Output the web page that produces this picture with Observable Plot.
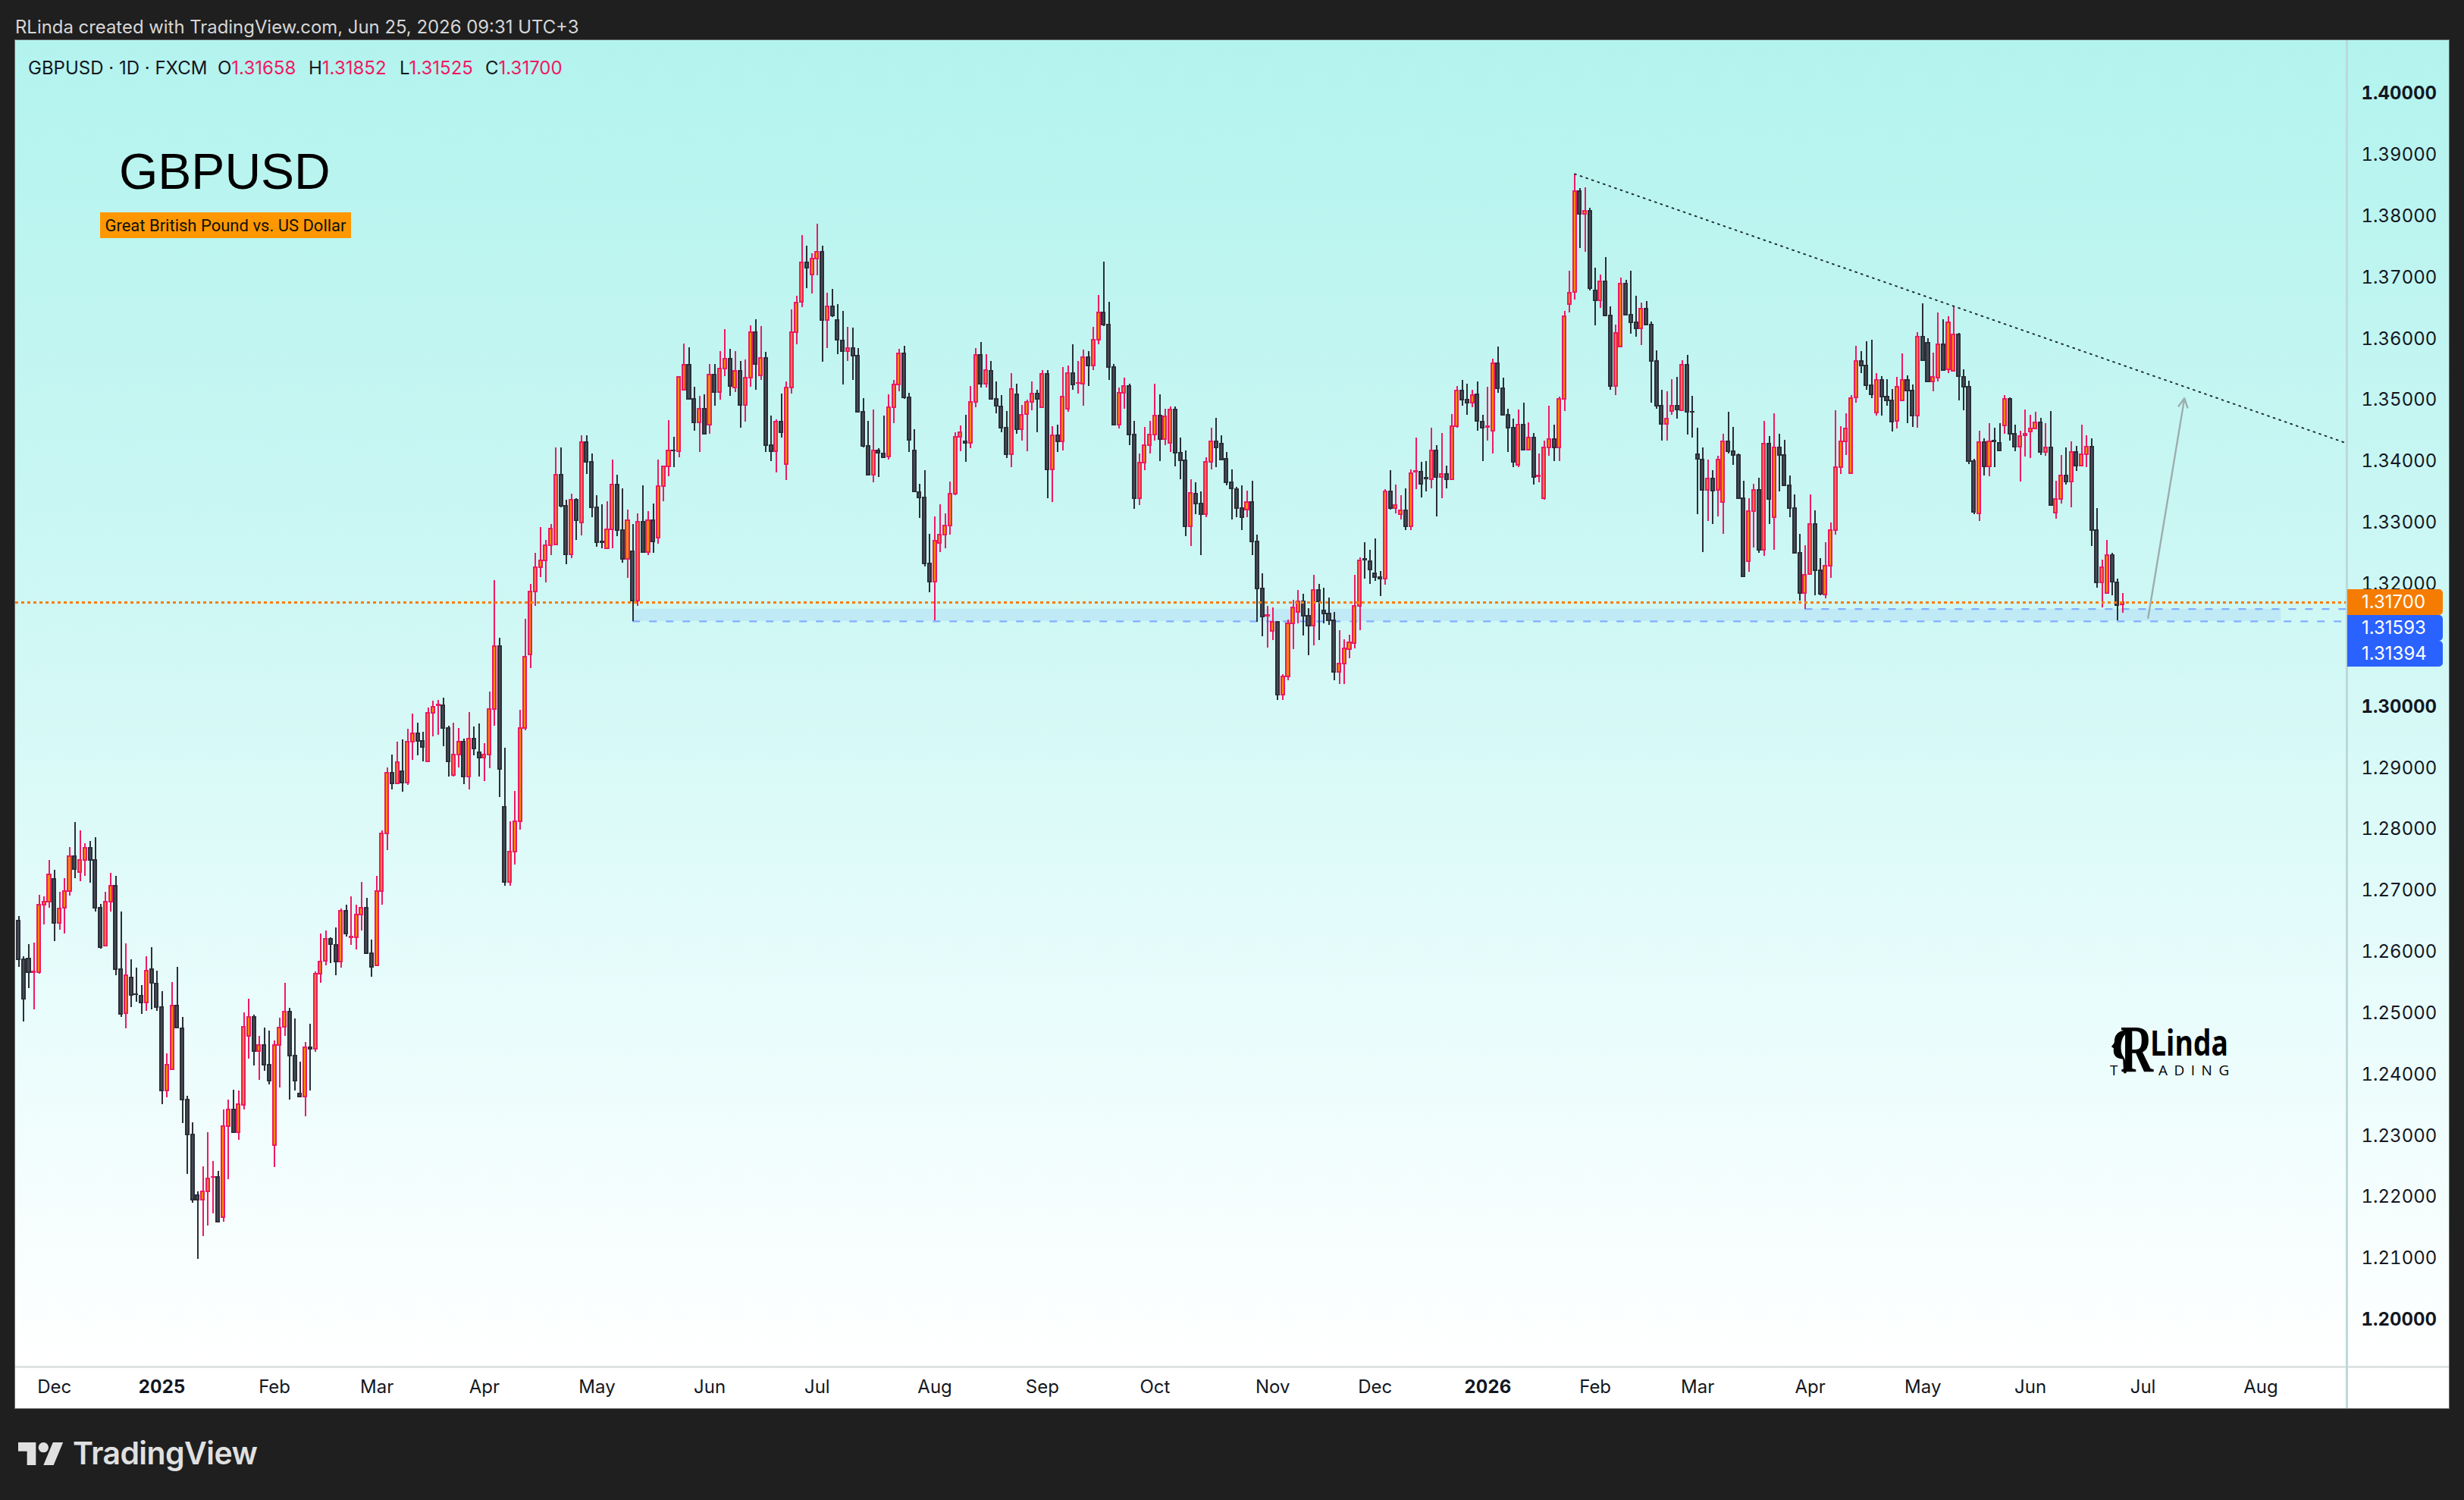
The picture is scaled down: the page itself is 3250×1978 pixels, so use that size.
<!DOCTYPE html>
<html>
<head>
<meta charset="utf-8">
<title>GBPUSD</title>
<script src="https://cdn.jsdelivr.net/npm/d3@7"></script>
<script src="https://cdn.jsdelivr.net/npm/@observablehq/plot@0.6"></script>
<style>
  html,body{margin:0;padding:0;background:#1f1f1f;width:3250px;height:1978px;overflow:hidden;font-family:Inter,Roboto,sans-serif}
  .abs{position:absolute;white-space:nowrap}
  #panel{position:absolute;left:20px;top:53px;width:3210px;height:1804px;background:#fff;outline:1px solid #6a6a6a}
  #grad{position:absolute;left:0;top:0;width:3210px;height:1749px;background:linear-gradient(to bottom,#b3f3ee 0%,#ccf7f4 40%,#e6fcfb 70%,#ffffff 100%)}
  #tline{position:absolute;left:0;top:1748px;width:3210px;height:3px;background:#e0e3e3}
  #vline{position:absolute;left:3074px;top:0;width:3px;height:1804px;background:#bcd9d9}
  #chart{position:absolute;left:0;top:0}
  .badge{position:absolute;left:3096px;width:126px;height:34px;line-height:34px;color:#fff;font-size:24px;text-align:left;text-indent:19px;border-radius:0 5px 5px 0}
  .pk{color:#ee1a62}
</style>
</head>
<body>
<div class="abs" style="left:20px;top:21px;font-size:23.9px;color:#d6d6d6">RLinda created with TradingView.com, Jun 25, 2026 09:31 UTC+3</div>
<div id="panel"><div id="grad"></div><div id="tline"></div><div id="vline"></div><div id="chart"></div></div>

<div class="abs" style="left:37px;top:75px;font-size:24px;color:#131722">GBPUSD · 1D · FXCM</div>
<div class="abs" style="left:287px;top:75px;font-size:24px;color:#131722">O<span class="pk">1.31658</span></div>
<div class="abs" style="left:407px;top:75px;font-size:24px;color:#131722">H<span class="pk">1.31852</span></div>
<div class="abs" style="left:527px;top:75px;font-size:24px;color:#131722">L<span class="pk">1.31525</span></div>
<div class="abs" style="left:640px;top:75px;font-size:24px;color:#131722">C<span class="pk">1.31700</span></div>

<div class="abs" style="left:157px;top:188px;font-family:'Liberation Sans';font-size:66px;color:#000">GBPUSD</div>
<div class="abs" style="left:132px;top:280px;width:331px;height:34px;line-height:36px;background:#ff9800;color:#111;text-align:center;font-family:Roboto;font-size:22px">Great British Pound vs. US Dollar</div>

<div class="badge" style="top:777px;background:#f57c00">1.31700</div>
<div class="badge" style="top:811px;background:#2962ff">1.31593</div>
<div class="badge" style="top:845px;background:#2962ff">1.31394</div>

<svg class="abs" style="left:2783px;top:1356px" width="33" height="62" viewBox="130 110 100 185"><path fill="#000" d="M200 115C170 115 148 130 148 160C148 170 140 175 136 182L145 188C143 205 146 222 165 228L182 232L185 288L195 288C200 260 195 235 180 215C172 200 172 170 180 150C186 135 200 125 215 120Z"/></svg>
<div class="abs" style="left:2797px;top:1346px;font-family:'Liberation Serif';font-weight:bold;font-size:88px;line-height:76px;color:#000;transform:scaleX(.68);transform-origin:left top">R</div>
<div class="abs" style="left:2836px;top:1351px;font-family:'Open Sans';font-weight:700;font-size:46px;line-height:46px;height:46px;overflow:visible;color:#000;transform:scaleX(.81);transform-origin:left top">Linda</div>
<div class="abs" style="left:2783px;top:1402px;font-family:'Open Sans';font-size:19px;line-height:19px;color:#000">T</div>
<div class="abs" style="left:2847px;top:1402px;font-family:'Open Sans';font-size:19px;line-height:19px;letter-spacing:8.5px;color:#000">ADING</div>

<svg class="abs" style="left:24px;top:1902px" width="60" height="30" viewBox="0 4 36 18"><path fill="#e0e0e0" d="M14 22H7V11H0V4h14v18zM28 22h-8l7.5-18h8L28 22z"/><circle cx="20" cy="8" r="4" fill="#e0e0e0"/></svg>
<div class="abs" style="left:96px;top:1891px;font-size:41px;font-weight:600;letter-spacing:-0.6px;color:#e0e0e0">TradingView</div>

<script>
const opens = [
1.2650,1.2588,1.2589,1.2567,1.2567,1.2677,1.2682,1.2719,1.2647,1.2671,
1.2699,1.2756,1.2730,1.2749,1.2769,1.2749,1.2672,1.2610,1.2681,1.2707,
1.2571,1.2500,1.2558,1.2531,1.2528,1.2517,1.2572,1.2548,1.2510,1.2374,
1.2408,1.2512,1.2475,1.2359,1.2302,1.2203,1.2196,1.2209,1.2232,1.2233,
1.2167,1.2316,1.2343,1.2306,1.2350,1.2462,1.2494,1.2438,1.2448,1.2415,
1.2285,1.2448,1.2477,1.2502,1.2431,1.2368,1.2364,1.2444,1.2441,1.2564,
1.2585,1.2621,1.2611,1.2584,1.2667,1.2623,1.2623,1.2661,1.2672,1.2598,
1.2577,1.2699,1.2793,1.2892,1.2875,1.2894,1.2876,1.2942,1.2956,1.2944,
1.2910,1.2989,1.3002,1.3002,1.2965,1.2888,1.2922,1.2942,1.2886,1.2947,
1.2925,1.2916,1.2922,1.2996,1.3098,1.2836,1.2714,1.2763,1.2813,1.2965,
1.3085,1.3187,1.3227,1.3238,1.3263,1.3264,1.3378,1.3327,1.3248,1.3337,
1.3300,1.3431,1.3399,1.3325,1.3269,1.3258,1.3289,1.3362,1.3288,1.3241,
1.3253,1.3173,1.3301,1.3252,1.3304,1.3275,1.3359,1.3392,1.3418,1.3416,
1.3516,1.3557,1.3501,1.3463,1.3485,1.3460,1.3541,1.3513,1.3551,1.3567,
1.3520,1.3547,1.3492,1.3536,1.3610,1.3540,1.3568,1.3426,1.3416,1.3464,
1.3395,1.3520,1.3611,1.3660,1.3724,1.3704,1.3730,1.3741,1.3630,1.3652,
1.3630,1.3597,1.3579,1.3584,1.3572,1.3481,1.3425,1.3378,1.3417,1.3413,
1.3408,1.3488,1.3525,1.3576,1.3504,1.3418,1.3350,1.3341,1.3233,1.3203,
1.3267,1.3280,1.3295,1.3347,1.3440,1.3432,1.3430,1.3497,1.3573,1.3526,
1.3547,1.3501,1.3489,1.3454,1.3411,1.3509,1.3452,1.3477,1.3497,1.3510,
1.3488,1.3542,1.3386,1.3442,1.3432,1.3486,1.3544,1.3527,1.3526,1.3570,
1.3556,1.3598,1.3643,1.3623,1.3553,1.3460,1.3512,1.3522,1.3444,1.3340,
1.3398,1.3426,1.3443,1.3474,1.3436,1.3430,1.3484,1.3414,1.3401,1.3294,
1.3347,1.3331,1.3314,1.3399,1.3432,1.3428,1.3404,1.3366,1.3354,1.3323,
1.3321,1.3333,1.3269,1.3192,1.3148,1.3123,1.3138,1.3019,1.3049,1.3136,
1.3154,1.3171,1.3148,1.3132,1.3190,1.3156,1.3152,1.3140,1.3056,1.3070,
1.3094,1.3103,1.3164,1.3240,1.3237,1.3217,1.3211,1.3208,1.3351,1.3323,
1.3313,1.3320,1.3294,1.3383,1.3383,1.3373,1.3371,1.3417,1.3374,1.3379,
1.3370,1.3457,1.3515,1.3500,1.3495,1.3509,1.3465,1.3456,1.3450,1.3560,
1.3519,1.3476,1.3455,1.3394,1.3459,1.3419,1.3438,1.3376,1.3340,1.3422,
1.3436,1.3423,1.3501,1.3656,1.3676,1.3841,1.3803,1.3808,1.3678,1.3662,
1.3693,1.3638,1.3523,1.3587,1.3689,1.3639,1.3626,1.3617,1.3649,1.3623,
1.3563,1.3491,1.3461,1.3482,1.3490,1.3483,1.3557,1.3481,1.3411,1.3403,
1.3353,1.3372,1.3353,1.3333,1.3432,1.3416,1.3410,1.3340,1.3237,1.3318,
1.3353,1.3255,1.3429,1.3309,1.3422,1.3410,1.3361,1.3324,1.3250,1.3185,
1.3216,1.3297,1.3222,1.3183,1.3230,1.3288,1.3390,1.3432,1.3380,1.3504,
1.3564,1.3556,1.3524,1.3479,1.3532,1.3505,1.3499,1.3466,1.3499,1.3532,
1.3515,1.3474,1.3603,1.3593,1.3530,1.3536,1.3590,1.3550,1.3547,1.3607,
1.3538,1.3521,1.3400,1.3315,1.3431,1.3392,1.3433,1.3430,1.3458,1.3502,
1.3445,1.3424,1.3442,1.3448,1.3453,1.3463,1.3415,1.3422,1.3316,1.3338,
1.3377,1.3367,1.3415,1.3393,1.3411,1.3424,1.3287,1.3202,1.3185,1.3247,
1.3202,1.31658];
const closes = [
1.2588,1.2523,1.2567,1.2568,1.2677,1.2682,1.2726,1.2647,1.2670,1.2699,
1.2756,1.2735,1.2749,1.2769,1.2749,1.2672,1.2607,1.2681,1.2707,1.2571,
1.2499,1.2562,1.2529,1.2530,1.2517,1.2569,1.2549,1.2510,1.2374,1.2415,
1.2512,1.2476,1.2359,1.2302,1.2195,1.2195,1.2209,1.2230,1.2233,1.2160,
1.2316,1.2343,1.2306,1.2351,1.2478,1.2494,1.2438,1.2448,1.2415,1.2389,
1.2448,1.2476,1.2502,1.2431,1.2390,1.2364,1.2444,1.2441,1.2564,1.2584,
1.2621,1.2612,1.2584,1.2667,1.2630,1.2624,1.2661,1.2672,1.2598,1.2575,
1.2699,1.2793,1.2892,1.2875,1.2909,1.2876,1.2942,1.2956,1.2944,1.2934,
1.2989,1.2999,1.3003,1.2965,1.2910,1.2922,1.2942,1.2886,1.2947,1.2931,
1.2916,1.2922,1.2996,1.3098,1.2898,1.2714,1.2763,1.2813,1.2965,1.3081,
1.3187,1.3227,1.3238,1.3263,1.3290,1.3378,1.3327,1.3248,1.3337,1.3304,
1.3431,1.3399,1.3325,1.3268,1.3268,1.3289,1.3362,1.3288,1.3241,1.3304,
1.3173,1.3301,1.3252,1.3304,1.3269,1.3359,1.3392,1.3417,1.3417,1.3537,
1.3557,1.3501,1.3463,1.3485,1.3445,1.3541,1.3513,1.3551,1.3567,1.3523,
1.3547,1.3492,1.3536,1.3610,1.3558,1.3568,1.3426,1.3416,1.3464,1.3447,
1.3520,1.3611,1.3659,1.3724,1.3715,1.3730,1.3741,1.3630,1.3652,1.3638,
1.3598,1.3579,1.3584,1.3572,1.3481,1.3425,1.3378,1.3417,1.3414,1.3406,
1.3488,1.3525,1.3576,1.3504,1.3435,1.3351,1.3341,1.3233,1.3203,1.3270,
1.3280,1.3295,1.3347,1.3440,1.3447,1.3430,1.3496,1.3573,1.3526,1.3549,
1.3502,1.3490,1.3455,1.3411,1.3518,1.3452,1.3476,1.3497,1.3510,1.3502,
1.3542,1.3386,1.3442,1.3432,1.3505,1.3543,1.3525,1.3528,1.3570,1.3556,
1.3598,1.3643,1.3623,1.3553,1.3460,1.3511,1.3522,1.3444,1.3340,1.3398,
1.3426,1.3443,1.3474,1.3436,1.3473,1.3484,1.3414,1.3401,1.3294,1.3348,
1.3331,1.3314,1.3399,1.3432,1.3422,1.3403,1.3366,1.3355,1.3323,1.3309,
1.3333,1.3269,1.3192,1.3146,1.3149,1.3138,1.3019,1.3049,1.3135,1.3161,
1.3171,1.3148,1.3132,1.3190,1.3171,1.3151,1.3140,1.3056,1.3070,1.3095,
1.3104,1.3164,1.3238,1.3239,1.3223,1.3211,1.3209,1.3351,1.3323,1.3329,
1.3320,1.3294,1.3380,1.3384,1.3363,1.3372,1.3417,1.3374,1.3379,1.3370,
1.3457,1.3515,1.3500,1.3495,1.3508,1.3466,1.3454,1.3457,1.3560,1.3519,
1.3476,1.3455,1.3399,1.3459,1.3419,1.3438,1.3374,1.3377,1.3422,1.3436,
1.3423,1.3501,1.3636,1.3675,1.3841,1.3803,1.3808,1.3682,1.3662,1.3693,
1.3638,1.3523,1.3609,1.3689,1.3639,1.3626,1.3617,1.3649,1.3623,1.3563,
1.3491,1.3461,1.3469,1.3490,1.3484,1.3557,1.3481,1.3480,1.3404,1.3353,
1.3372,1.3352,1.3402,1.3432,1.3416,1.3410,1.3340,1.3212,1.3318,1.3353,
1.3255,1.3429,1.3338,1.3422,1.3410,1.3361,1.3324,1.3250,1.3185,1.3215,
1.3297,1.3222,1.3184,1.3230,1.3288,1.3390,1.3432,1.3453,1.3503,1.3564,
1.3556,1.3524,1.3509,1.3532,1.3505,1.3499,1.3465,1.3521,1.3532,1.3515,
1.3474,1.3603,1.3565,1.3530,1.3537,1.3590,1.3549,1.3626,1.3607,1.3539,
1.3521,1.3400,1.3317,1.3431,1.3392,1.3432,1.3432,1.3418,1.3502,1.3445,
1.3424,1.3441,1.3445,1.3453,1.3463,1.3415,1.3422,1.3329,1.3338,1.3377,
1.3367,1.3415,1.3393,1.3411,1.3424,1.3287,1.3202,1.3227,1.3247,1.3203,
1.3165,1.31700];
const highs = [
1.2658,1.2593,1.2612,1.2615,1.2693,1.2690,1.2749,1.2734,1.2698,1.2720,
1.2770,1.2811,1.2798,1.2777,1.2781,1.2787,1.2678,1.2698,1.2728,1.2724,
1.2666,1.2613,1.2587,1.2574,1.2546,1.2592,1.2607,1.2569,1.2535,1.2434,
1.2550,1.2575,1.2493,1.2365,1.2321,1.2209,1.2250,1.2305,1.2259,1.2243,
1.2343,1.2359,1.2375,1.2374,1.2501,1.2523,1.2497,1.2462,1.2476,1.2471,
1.2455,1.2492,1.2549,1.2508,1.2491,1.2421,1.2453,1.2482,1.2568,1.2629,
1.2634,1.2623,1.2639,1.2670,1.2677,1.2690,1.2676,1.2714,1.2688,1.2620,
1.2723,1.2798,1.2900,1.2922,1.2943,1.2946,1.2964,1.2988,1.2973,1.2958,
1.2998,1.3009,1.3010,1.3014,1.2969,1.2973,1.2965,1.2948,1.2991,1.2967,
1.2972,1.2940,1.3024,1.3206,1.3112,1.2933,1.2813,1.2862,1.2995,1.3143,
1.3200,1.3251,1.3292,1.3272,1.3297,1.3422,1.3423,1.3337,1.3347,1.3340,
1.3442,1.3442,1.3413,1.3345,1.3330,1.3335,1.3402,1.3378,1.3355,1.3321,
1.3298,1.3315,1.3360,1.3318,1.3331,1.3403,1.3393,1.3467,1.3440,1.3537,
1.3592,1.3586,1.3521,1.3506,1.3509,1.3558,1.3558,1.3579,1.3615,1.3583,
1.3580,1.3563,1.3566,1.3621,1.3631,1.3620,1.3578,1.3474,1.3468,1.3510,
1.3530,1.3647,1.3670,1.3769,1.3751,1.3739,1.3787,1.3751,1.3675,1.3681,
1.3656,1.3645,1.3619,1.3618,1.3584,1.3503,1.3466,1.3484,1.3421,1.3474,
1.3509,1.3533,1.3583,1.3588,1.3511,1.3452,1.3363,1.3385,1.3282,1.3310,
1.3330,1.3315,1.3367,1.3447,1.3458,1.3476,1.3523,1.3585,1.3594,1.3575,
1.3563,1.3530,1.3508,1.3482,1.3544,1.3526,1.3492,1.3500,1.3530,1.3516,
1.3548,1.3548,1.3457,1.3459,1.3553,1.3556,1.3590,1.3564,1.3582,1.3580,
1.3619,1.3671,1.3726,1.3660,1.3558,1.3520,1.3536,1.3526,1.3466,1.3413,
1.3456,1.3466,1.3526,1.3509,1.3485,1.3489,1.3489,1.3438,1.3418,1.3370,
1.3366,1.3351,1.3406,1.3454,1.3471,1.3442,1.3415,1.3387,1.3358,1.3361,
1.3352,1.3368,1.3280,1.3217,1.3164,1.3162,1.3138,1.3053,1.3142,1.3174,
1.3190,1.3184,1.3160,1.3215,1.3200,1.3193,1.3177,1.3154,1.3124,1.3109,
1.3117,1.3214,1.3243,1.3268,1.3255,1.3274,1.3221,1.3354,1.3385,1.3362,
1.3345,1.3356,1.3387,1.3438,1.3399,1.3400,1.3455,1.3426,1.3446,1.3393,
1.3477,1.3523,1.3533,1.3526,1.3516,1.3530,1.3476,1.3521,1.3567,1.3587,
1.3536,1.3485,1.3469,1.3484,1.3495,1.3463,1.3446,1.3413,1.3434,1.3490,
1.3459,1.3505,1.3645,1.3711,1.3869,1.3845,1.3847,1.3813,1.3715,1.3705,
1.3733,1.3653,1.3623,1.3700,1.3696,1.3711,1.3670,1.3659,1.3661,1.3628,
1.3581,1.3516,1.3514,1.3534,1.3537,1.3565,1.3573,1.3507,1.3454,1.3423,
1.3403,1.3385,1.3409,1.3445,1.3481,1.3456,1.3412,1.3368,1.3339,1.3363,
1.3373,1.3466,1.3441,1.3478,1.3445,1.3435,1.3377,1.3346,1.3282,1.3263,
1.3346,1.3320,1.3242,1.3268,1.3300,1.3483,1.3457,1.3478,1.3508,1.3588,
1.3579,1.3595,1.3598,1.3544,1.3539,1.3534,1.3518,1.3537,1.3576,1.3540,
1.3525,1.3610,1.3657,1.3601,1.3577,1.3642,1.3632,1.3636,1.3654,1.3609,
1.3550,1.3531,1.3404,1.3449,1.3437,1.3462,1.3454,1.3462,1.3508,1.3504,
1.3459,1.3450,1.3484,1.3476,1.3481,1.3471,1.3462,1.3482,1.3368,1.3410,
1.3423,1.3432,1.3425,1.3460,1.3442,1.3437,1.3323,1.3239,1.3271,1.3250,
1.3208,1.31852];
const lows = [
1.2575,1.2486,1.2540,1.2506,1.2564,1.2644,1.2672,1.2617,1.2636,1.2630,
1.2692,1.2720,1.2715,1.2723,1.2712,1.2665,1.2605,1.2608,1.2665,1.2561,
1.2494,1.2475,1.2509,1.2518,1.2499,1.2504,1.2506,1.2504,1.2351,1.2363,
1.2408,1.2476,1.2320,1.2237,1.2191,1.2099,1.2136,1.2153,1.2173,1.2160,
1.2160,1.2229,1.2306,1.2293,1.2343,1.2425,1.2414,1.2391,1.2406,1.2384,
1.2248,1.2378,1.2462,1.2359,1.2374,1.2362,1.2331,1.2374,1.2436,1.2549,
1.2577,1.2581,1.2562,1.2574,1.2624,1.2611,1.2604,1.2634,1.2598,1.2559,
1.2577,1.2677,1.2766,1.2865,1.2873,1.2861,1.2872,1.2913,1.2920,1.2910,
1.2910,1.2951,1.2954,1.2935,1.2886,1.2886,1.2901,1.2873,1.2865,1.2920,
1.2885,1.2878,1.2899,1.2968,1.2852,1.2708,1.2708,1.2742,1.2799,1.2961,
1.3062,1.3164,1.3211,1.3202,1.3247,1.3264,1.3325,1.3232,1.3242,1.3272,
1.3279,1.3379,1.3308,1.3260,1.3258,1.3258,1.3258,1.3278,1.3235,1.3210,
1.3139,1.3164,1.3252,1.3247,1.3250,1.3265,1.3334,1.3376,1.3390,1.3406,
1.3516,1.3500,1.3449,1.3415,1.3445,1.3445,1.3491,1.3500,1.3539,1.3506,
1.3513,1.3455,1.3464,1.3521,1.3516,1.3533,1.3415,1.3400,1.3382,1.3439,
1.3369,1.3510,1.3590,1.3651,1.3682,1.3673,1.3703,1.3562,1.3585,1.3635,
1.3575,1.3525,1.3564,1.3533,1.3480,1.3423,1.3378,1.3365,1.3374,1.3405,
1.3402,1.3462,1.3514,1.3502,1.3415,1.3351,1.3307,1.3228,1.3186,1.3141,
1.3252,1.3258,1.3280,1.3345,1.3416,1.3399,1.3421,1.3488,1.3520,1.3520,
1.3502,1.3478,1.3447,1.3405,1.3390,1.3445,1.3434,1.3416,1.3483,1.3447,
1.3488,1.3340,1.3333,1.3415,1.3418,1.3481,1.3517,1.3510,1.3491,1.3523,
1.3548,1.3591,1.3620,1.3533,1.3460,1.3453,1.3486,1.3426,1.3322,1.3329,
1.3385,1.3413,1.3434,1.3400,1.3426,1.3415,1.3392,1.3370,1.3278,1.3261,
1.3314,1.3247,1.3309,1.3387,1.3390,1.3401,1.3360,1.3305,1.3308,1.3287,
1.3309,1.3247,1.3138,1.3115,1.3096,1.3108,1.3010,1.3010,1.3043,1.3094,
1.3136,1.3116,1.3084,1.3099,1.3108,1.3135,1.3133,1.3043,1.3037,1.3037,
1.3079,1.3095,1.3124,1.3209,1.3200,1.3205,1.3180,1.3198,1.3321,1.3315,
1.3305,1.3287,1.3288,1.3354,1.3341,1.3351,1.3355,1.3310,1.3340,1.3356,
1.3370,1.3454,1.3491,1.3476,1.3488,1.3449,1.3400,1.3434,1.3413,1.3511,
1.3475,1.3415,1.3390,1.3390,1.3419,1.3417,1.3362,1.3366,1.3337,1.3409,
1.3400,1.3400,1.3482,1.3642,1.3663,1.3748,1.3742,1.3679,1.3622,1.3650,
1.3638,1.3517,1.3508,1.3587,1.3638,1.3608,1.3603,1.3589,1.3623,1.3495,
1.3485,1.3433,1.3434,1.3475,1.3469,1.3482,1.3444,1.3439,1.3314,1.3252,
1.3303,1.3297,1.3310,1.3282,1.3412,1.3394,1.3338,1.3212,1.3220,1.3259,
1.3251,1.3245,1.3298,1.3256,1.3351,1.3361,1.3309,1.3250,1.3173,1.3159,
1.3216,1.3181,1.3181,1.3176,1.3210,1.3280,1.3379,1.3410,1.3380,1.3495,
1.3543,1.3516,1.3503,1.3474,1.3474,1.3490,1.3448,1.3453,1.3499,1.3462,
1.3456,1.3454,1.3563,1.3529,1.3514,1.3530,1.3547,1.3543,1.3547,1.3499,
1.3483,1.3395,1.3314,1.3302,1.3377,1.3375,1.3390,1.3418,1.3445,1.3434,
1.3416,1.3367,1.3408,1.3405,1.3453,1.3410,1.3409,1.3329,1.3306,1.3331,
1.3362,1.3325,1.3384,1.3393,1.3390,1.3261,1.3193,1.3162,1.3184,1.3181,
1.3140,1.31525];

const priceTicks = [1.21,1.22,1.23,1.24,1.25,1.26,1.27,1.28,1.29,1.32,1.33,1.34,1.35,1.36,1.37,1.38,1.39];
const boldPriceTicks = [1.20,1.30,1.40];
const monthBars = [7,50,70,91,113,135,156,179,200,222,245,265,308,328,350,372,393,415,438];
const monthNames = ["Dec","Feb","Mar","Apr","May","Jun","Jul","Aug","Sep","Oct","Nov","Dec","Feb","Mar","Apr","May","Jun","Jul","Aug"];
const yearBars = [28,287];
const yearNames = ["2025","2026"];

const lastPrice = 1.31700;
const zoneTop = 1.31593, zoneBottom = 1.31394;
const trendBars = [304, 454.7], trendPrices = [1.3869, 1.3430];
const arrowBars = [416, 423.1], arrowPrices = [1.3145, 1.3503];
const zoneBars = [120, 442];
const upperDashStart = 349, dashEnd = 454.7;

const candles = opens.map((o,i)=>({i,o,h:highs[i],l:lows[i],c:closes[i]}));
const up = candles.filter(d=>d.c>=d.o), down = candles.filter(d=>d.c<d.o);
const PINK="#ee1a62", ORANGE="#f78a00", DARK="#2b2f36", GREY="#474a56", BLUE="#82aeff";
const FONT="Inter, Roboto, sans-serif";
const hw=0.3;

const wick=(data,stroke)=>Plot.ruleX(data,{x:"i",y1:"l",y2:"h",stroke,strokeWidth:2,shapeRendering:"crispEdges"});
const body=(data,fill,stroke)=>Plot.rect(data,{x1:d=>d.i-hw,x2:d=>d.i+hw,y1:"o",y2:"c",fill,stroke,strokeWidth:2,shapeRendering:"crispEdges"});

const chart = Plot.plot({
  width:3210,height:1804,marginLeft:0,marginRight:136,marginTop:0,marginBottom:55,
  style:{background:"transparent",fontFamily:FONT,fontSize:"24px",color:"#131722"},
  x:{type:"linear",domain:[0,411],range:[4,2779.07]},
  y:{type:"linear",domain:[1.2,1.4],range:[1687,70]},
  marks:[
    Plot.rect([0],{x1:()=>zoneBars[0],x2:()=>zoneBars[1],y1:()=>zoneBottom,y2:()=>zoneTop,fill:"#2962ff",fillOpacity:0.09}),
    Plot.ruleY([zoneBottom],{x1:()=>zoneBars[0],x2:()=>dashEnd,stroke:BLUE,strokeWidth:2.2,strokeDasharray:"10 12"}),
    Plot.ruleY([zoneTop],{x1:()=>upperDashStart,x2:()=>dashEnd,stroke:BLUE,strokeWidth:2.2,strokeDasharray:"10 12"}),
    wick(up,PINK),wick(down,DARK),
    body(up,ORANGE,PINK),body(down,GREY,DARK),
    Plot.ruleY([lastPrice],{stroke:"#fb7c00",strokeWidth:3,strokeDasharray:"4 4",shapeRendering:"crispEdges"}),
    Plot.line(trendBars.map((b,k)=>({b,p:trendPrices[k]})),{x:"b",y:"p",stroke:"#1d2a30",strokeWidth:1.9,strokeDasharray:"1.9 6.1"}),
    Plot.arrow([0],{x1:()=>arrowBars[0],x2:()=>arrowBars[1],y1:()=>arrowPrices[0],y2:()=>arrowPrices[1],bend:0,stroke:"#9cadad",strokeWidth:2.4,headLength:8,headAngle:55}),
    Plot.axisY(priceTicks,{anchor:"right",tickSize:0,tickPadding:20,label:null,tickFormat:d=>d.toFixed(5),fontSize:24,fontFamily:FONT,fill:"#131722"}),
    Plot.axisY(boldPriceTicks,{anchor:"right",tickSize:0,tickPadding:20,label:null,tickFormat:d=>d.toFixed(5),fontSize:24,fontFamily:FONT,fontWeight:"bold",fill:"#131722"}),
    Plot.axisX(monthBars,{anchor:"bottom",tickSize:0,tickPadding:17,label:null,tickFormat:d=>monthNames[monthBars.indexOf(d)],fontSize:24,fontFamily:FONT,fill:"#131722"}),
    Plot.axisX(yearBars,{anchor:"bottom",tickSize:0,tickPadding:17,label:null,tickFormat:d=>yearNames[yearBars.indexOf(d)],fontSize:24,fontFamily:FONT,fontWeight:"bold",fill:"#131722"})
  ]
});
document.getElementById("chart").appendChild(chart);
</script>
</body>
</html>
